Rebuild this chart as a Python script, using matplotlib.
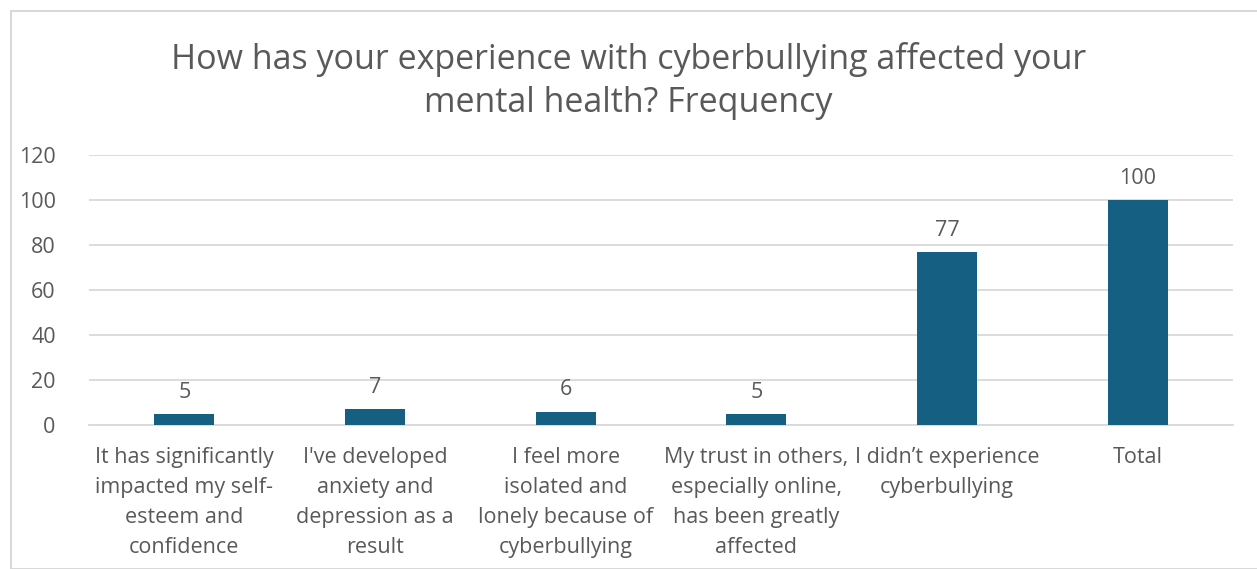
import matplotlib.pyplot as plt
from matplotlib.patches import Rectangle

# data
categories = [
    "It has significantly\nimpacted my self-\nesteem and\nconfidence",
    "I've developed\nanxiety and\ndepression as a\nresult",
    "I feel more\nisolated and\nlonely because of\ncyberbullying",
    "My trust in others,\nespecially online,\nhas been greatly\naffected",
    "I didn\u2019t experience\ncyberbullying",
    "Total",
]
counts = [5, 7, 6, 5, 77, 100]
y_ticks = [0, 20, 40, 60, 80, 100, 120]

bar_color = "#156082"
text_color = "#595959"
grid_color = "#d9d9d9"

plt.rcParams['font.family'] = ['Open Sans', 'DejaVu Sans']

fig = plt.figure(figsize=(12.57, 5.69), dpi=100)
ax = fig.add_axes([89 / 1257, 144 / 569, 1144 / 1257, 270 / 569])

x = range(len(categories))
bars = ax.bar(x, counts, width=0.315, color=bar_color, zorder=3)

for b, v in zip(bars, counts):
    ax.text(b.get_x() + b.get_width() / 2, v + 5, str(v), ha='center', va='bottom',
            fontsize=15.5, color=text_color)

ax.set_xlim(-0.5, len(categories) - 0.5)
ax.set_ylim(0, 120)
ax.set_yticks(y_ticks)
ax.set_yticklabels([str(t) for t in y_ticks], fontsize=15.5, color=text_color)
ax.set_xticks(list(x))
ax.set_xticklabels(categories, fontsize=15.5, color=text_color, linespacing=1.56)
ax.tick_params(axis='both', length=0)
ax.tick_params(axis='y', pad=24)
ax.tick_params(axis='x', pad=16)

ax.grid(axis='y', color=grid_color, linewidth=1.3, zorder=0)
for s in ['top', 'right', 'left']:
    ax.spines[s].set_visible(False)
ax.spines['bottom'].set_color(grid_color)
ax.spines['bottom'].set_linewidth(1.3)

fig.text(0.5, 0.858, "How has your experience with cyberbullying affected your\nmental health? Frequency",
         ha='center', va='center', fontsize=24.5, color=text_color, linespacing=1.35)

# outer chart border
fig.patches.append(Rectangle((11 / 1257, 0), 1.0, 1 - 11 / 569, transform=fig.transFigure,
                             fill=False, edgecolor=grid_color, linewidth=1.5))

fig.savefig("out.png", dpi=100)
